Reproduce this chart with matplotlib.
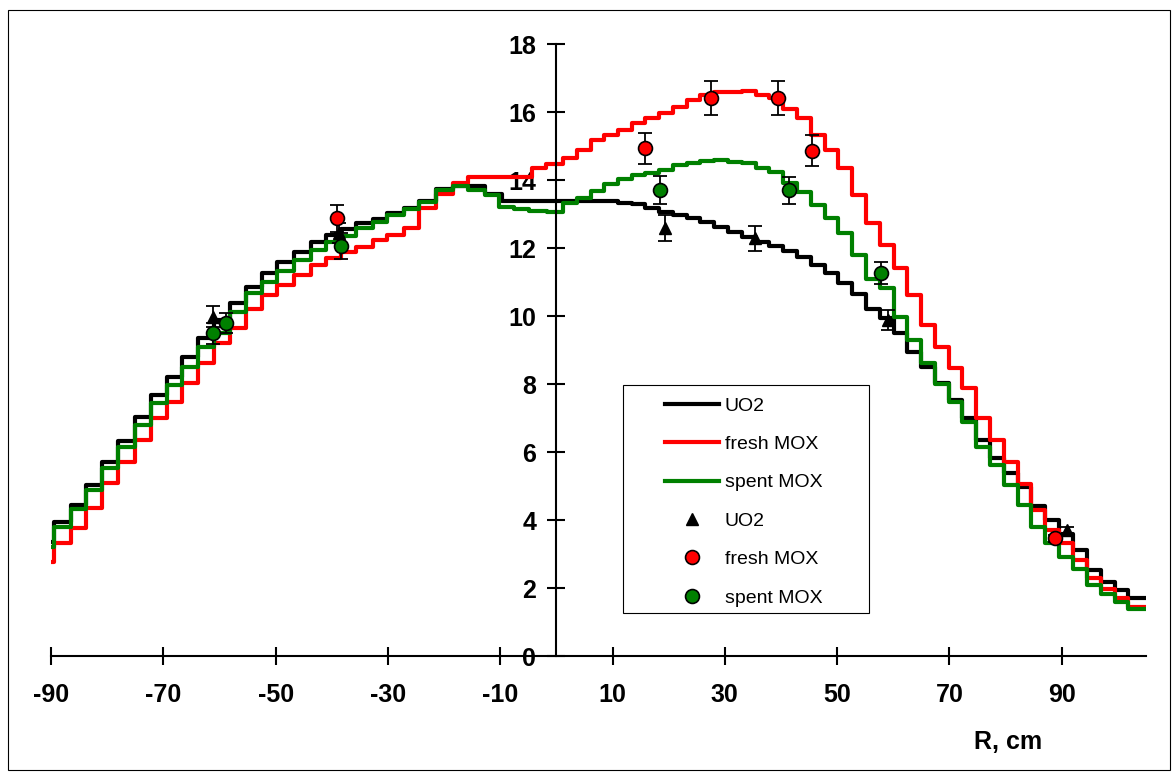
import matplotlib
matplotlib.use('Agg')
import matplotlib.pyplot as plt
from matplotlib.patches import Rectangle

plt.rcParams['font.family'] = ['Liberation Sans', 'DejaVu Sans']
plt.rcParams['axes.unicode_minus'] = False

###                               step-curve data (calc)                              ###
### --------------------------------------------------------------------------------- ###
# left half: step edges in cm (shared by the three calculations)
r_left = [-90, -89.5, -86.5, -83.7, -80.9, -78.0, -75.1, -72.2, -69.4, -66.6, -63.8,
          -61.0, -58.2, -55.3, -52.5, -49.7, -46.7, -43.7, -41.1, -38.4, -35.7, -32.7,
          -30.1, -27.1, -24.4, -21.4, -18.5, -15.8, -12.8]
# right half: step edges in cm
r_right = [1.1, 3.6, 6.1, 8.5, 10.9, 13.4, 15.8, 18.3, 20.7, 23.2, 25.6, 28.1, 30.6,
           33.0, 35.5, 37.9, 40.4, 42.9, 45.3, 47.8, 50.2, 52.7, 55.1, 57.6, 60.1, 62.5,
           65.0, 67.4, 69.9, 72.3, 74.8, 77.3, 79.7, 82.2, 84.6, 87.1, 89.5, 92.0, 94.5,
           96.9, 99.4, 101.8]
r_end = 105

uo2_mid = [-9.6]
uo2_left = [3.36, 3.95, 4.44, 5.03, 5.71, 6.32, 7.04, 7.68, 8.21, 8.78, 9.34, 9.88, 10.39,
            10.86, 11.27, 11.6, 11.89, 12.19, 12.38, 12.55, 12.74, 12.85, 13.02, 13.17,
            13.39, 13.75, 13.82, 13.82, 13.6]
uo2_center = [13.38]
uo2_right = [13.33, 13.3, 13.17, 13.07, 12.97, 12.87, 12.77, 12.63, 12.48, 12.33, 12.19,
             12.06, 11.92, 11.75, 11.5, 11.26, 10.96, 10.64, 10.2, 9.93, 9.49, 8.95, 8.51,
             8.03, 7.53, 6.99, 6.35, 5.81, 5.39, 4.98, 4.41, 4.0, 3.6, 3.12, 2.53, 2.19,
             1.94, 1.7]

fresh_mid = [-4.3, -1.8]
fresh_left = [2.77, 3.32, 3.76, 4.35, 5.09, 5.71, 6.35, 7.0, 7.48, 8.03, 8.63, 9.22, 9.64,
              10.2, 10.62, 10.91, 11.2, 11.5, 11.7, 11.89, 12.02, 12.24, 12.38, 12.58,
              13.17, 13.6, 13.9, 14.1]
fresh_center = [14.34, 14.47]
fresh_right = [14.65, 14.88, 15.18, 15.32, 15.47, 15.67, 15.81, 15.96, 16.16, 16.35, 16.5,
               16.58, 16.6, 16.62, 16.5, 16.4, 16.1, 15.81, 15.32, 14.88, 14.34, 13.56,
               12.74, 12.1, 11.4, 10.62, 9.74, 9.1, 8.46, 7.87, 6.99, 6.35, 5.71, 5.06,
               4.29, 3.7, 3.31, 2.82, 2.28, 1.96, 1.7, 1.45]

spent_mid = [-10.2, -7.5, -4.8, -1.6]
spent_left = [3.21, 3.8, 4.32, 4.88, 5.52, 6.14, 6.79, 7.43, 7.97, 8.51, 9.1, 9.5, 10.13,
              10.67, 11.01, 11.33, 11.65, 11.94, 12.19, 12.35, 12.58, 12.77, 12.97, 13.14,
              13.36, 13.7, 13.81, 13.7, 13.55]
spent_center = [13.21, 13.14, 13.1, 13.05]
spent_right = [13.31, 13.48, 13.68, 13.88, 14.02, 14.15, 14.22, 14.29, 14.44, 14.51, 14.55,
               14.59, 14.54, 14.49, 14.34, 14.24, 13.9, 13.66, 13.26, 12.87, 12.43, 11.78,
               11.08, 10.81, 9.96, 9.29, 8.61, 8.0, 7.48, 6.89, 6.16, 5.62, 5.03, 4.44, 3.8,
               3.31, 2.92, 2.55, 2.09, 1.81, 1.6, 1.37]

###                                  measured points                                  ###
### --------------------------------------------------------------------------------- ###
uo2_x = [-61.1, -38.7, 19.4, 35.3, 59.0, 90.9]
uo2_y = [9.98, 12.45, 12.58, 12.28, 9.88, 3.7]
uo2_err = [0.3, 0.3, 0.38, 0.37, 0.3, 0.1]

fresh_x = [-39.0, 15.7, 27.6, 39.4, 45.5, 88.8]
fresh_y = [12.87, 14.93, 16.4, 16.4, 14.86, 3.46]
fresh_err = [0.39, 0.45, 0.5, 0.5, 0.45, 0.1]

spent_x = [-61.1, -58.8, -38.4, 18.4, 41.5, 57.8]
spent_y = [9.49, 9.8, 12.06, 13.7, 13.7, 11.26]
spent_err = [0.3, 0.3, 0.39, 0.41, 0.4, 0.32]

x_ticks = [-90, -70, -50, -30, -10, 10, 30, 50, 70, 90]
y_ticks = [0, 2, 4, 6, 8, 10, 12, 14, 16, 18]

### --------------------------------------------------------------------------------- ###

W, H = 1176, 778
fig = plt.figure(figsize=(W / 100, H / 100), dpi=100)
ax = fig.add_axes([51 / W, 1 - 656 / H, 1095 / W, 612 / H])


def steps(left_vals, mid_edges, mid_vals, right_vals):
    n = len(left_vals)
    edges = r_left[:n] + mid_edges + r_right[len(r_right) - len(right_vals):] + [r_end]
    vals = left_vals + mid_vals + right_vals
    return edges, vals + [vals[-1]]


e, v = steps(uo2_left, uo2_mid, uo2_center, uo2_right)
ax.step(e, v, where='post', color='black', lw=3, label='UO2', zorder=2)
e, v = steps(fresh_left, fresh_mid, fresh_center, fresh_right)
ax.step(e, v, where='post', color='#ff0000', lw=3, label='fresh MOX', zorder=2)
e, v = steps(spent_left, spent_mid, spent_center, spent_right)
ax.step(e, v, where='post', color='#008000', lw=3, label='spent MOX', zorder=2)

# error bars + markers
for xs, ys, er in [(uo2_x, uo2_y, uo2_err), (fresh_x, fresh_y, fresh_err), (spent_x, spent_y, spent_err)]:
    ax.errorbar(xs, ys, yerr=er, fmt='none', ecolor='black', elinewidth=1.3,
                capsize=5, capthick=1.3, zorder=4)
ax.plot(uo2_x, uo2_y, ls='none', marker='^', ms=9, color='black', zorder=5, label='UO2')
ax.plot(fresh_x, fresh_y, ls='none', marker='o', ms=10, mfc='#ff0000', mec='black',
        mew=1.2, zorder=5, label='fresh MOX')
ax.plot(spent_x, spent_y, ls='none', marker='o', ms=10, mfc='#008000', mec='black',
        mew=1.2, zorder=5, label='spent MOX')

ax.set_xlim(-90, 105)
ax.set_ylim(0, 18)
ax.spines['left'].set_position(('data', 0))
ax.spines['top'].set_visible(False)
ax.spines['right'].set_visible(False)
ax.spines['left'].set_linewidth(1.5)
ax.spines['bottom'].set_linewidth(1.5)
ax.set_xticks(x_ticks)
ax.set_yticks(y_ticks)
ax.tick_params(direction='inout', length=13, width=1.5, labelsize=18)
ax.tick_params(axis='x', pad=13)
ax.tick_params(axis='y', pad=8)
for lab in ax.get_xticklabels() + ax.get_yticklabels():
    lab.set_fontweight('bold')

fig.text(1008 / W, 1 - 742 / H, 'R, cm', ha='center', va='center', fontsize=18, fontweight='bold')

# legend with its own frame
fig.add_artist(Rectangle((623 / W, 1 - 613 / H), 246 / W, 228 / H, transform=fig.transFigure,
                         fill=False, ec='black', lw=0.8))
handles, labels = ax.get_legend_handles_labels()
ax.legend(handles, labels, loc='upper left', bbox_to_anchor=(665 / W, 1 - 397 / H),
          bbox_transform=fig.transFigure, frameon=False, borderpad=0, borderaxespad=0,
          handlelength=2.8, handletextpad=0.28, labelspacing=1.07, numpoints=1,
          prop={'size': 14})

# chart border
fig.add_artist(Rectangle((8 / W, 8 / H), 1162 / W, 760 / H, transform=fig.transFigure,
                         fill=False, ec='black', lw=0.8))

fig.savefig('out.png', dpi=100)
